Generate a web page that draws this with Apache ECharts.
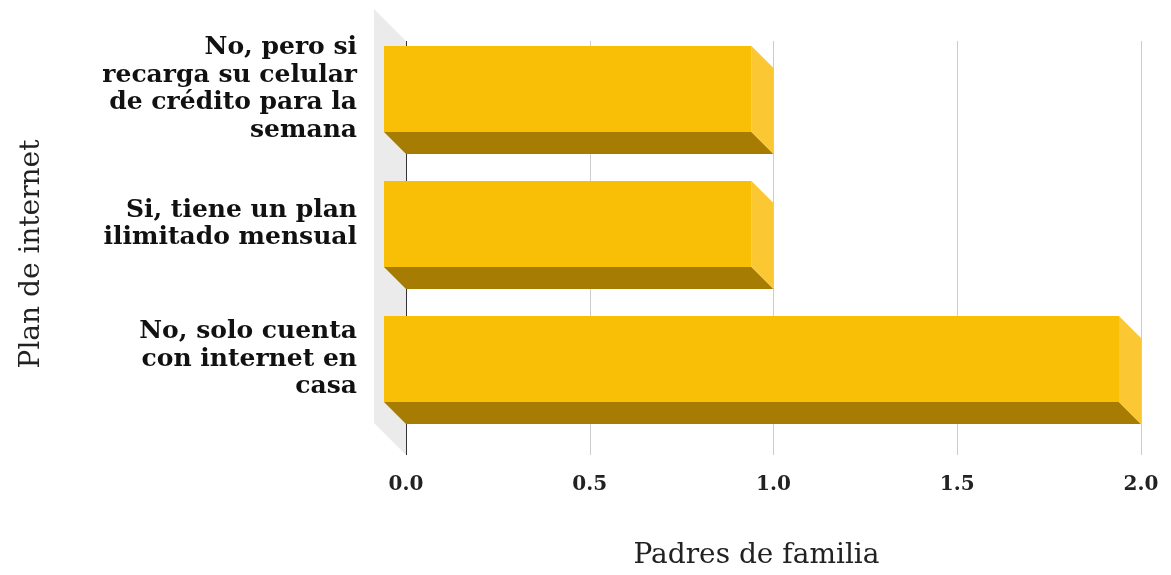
<!DOCTYPE html>
<html>
<head>
<meta charset="utf-8">
<script src="https://cdn.jsdelivr.net/npm/echarts@6/dist/echarts.min.js"></script>
<style>html,body{margin:0;padding:0;background:#fff}#c{width:1171px;height:575px}</style>
</head>
<body>
<div id="c"></div>
<script>
const categories = [
  "No, pero si\nrecarga su celular\nde crédito para la\nsemana",
  "Si, tiene un plan\nilimitado mensual",
  "No, solo cuenta\ncon internet en\ncasa"
];
const values = [1, 1, 2];
const xTicks = [0, 0.5, 1, 1.5, 2];
const yTitle = "Plan de internet";
const xTitle = "Padres de familia";

const FRONT = '#F9BE06', SIDE = '#FBC733', BOTTOM = '#A67C03', WALL = '#EBEBEB';
const SERIF = '"DejaVu Serif", "Liberation Serif", serif';
const DEPTH = 22, WALLDEPTH = 32;

const chart = echarts.init(document.getElementById('c'));

function renderBar(params, api) {
  const val = api.value(0), cat = api.value(1);
  const p0 = api.coord([0, cat]);
  const p1 = api.coord([val, cat]);
  const h = api.size([0, 1])[1] * 0.637;
  const d = DEPTH;
  const yt = p0[1] - h / 2, yb = p0[1] + h / 2;
  const x0 = p0[0], x1 = p1[0];
  return {
    type: 'group',
    children: [
      { type: 'polygon', shape: { points: [[x0 - d, yb - d], [x1 - d, yb - d], [x1, yb], [x0, yb]] }, style: { fill: BOTTOM } },
      { type: 'polygon', shape: { points: [[x1 - d, yt - d], [x1, yt], [x1, yb], [x1 - d, yb - d]] }, style: { fill: SIDE } },
      { type: 'rect', shape: { x: x0 - d, y: yt - d, width: x1 - x0, height: h }, style: { fill: FRONT } }
    ]
  };
}

function renderWall(params, api) {
  const cs = params.coordSys;
  const w = WALLDEPTH;
  return {
    type: 'polygon',
    shape: { points: [[cs.x - w, cs.y - w], [cs.x, cs.y], [cs.x, cs.y + cs.height], [cs.x - w, cs.y + cs.height - w]] },
    style: { fill: WALL }
  };
}

chart.setOption({
  animation: false,
  grid: [
    { left: 406, right: 30, top: 41, bottom: 116 },
    { left: 406, right: 30, top: 43.5, height: 405 },
    { left: 384, right: 52, top: 21.5, height: 405 }
  ],
  xAxis: [
    {
      gridIndex: 0, type: 'value', min: xTicks[0], max: xTicks[xTicks.length - 1], interval: 0.5,
      axisLine: { show: false }, axisTick: { show: false },
      splitLine: { show: true, lineStyle: { color: ['#333333', '#cccccc', '#cccccc', '#cccccc', '#cccccc'], width: 1 } },
      axisLabel: { margin: 20, fontFamily: SERIF, fontWeight: 'bold', fontSize: 20, color: '#222', formatter: v => v.toFixed(1) },
      name: xTitle, nameLocation: 'middle', nameGap: 87,
      nameTextStyle: { fontFamily: SERIF, fontSize: 28, color: '#222', padding: [0, 34, 0, 0] }
    },
    {
      gridIndex: 1, type: 'value', min: xTicks[0], max: xTicks[xTicks.length - 1], show: false
    },
    {
      gridIndex: 2, type: 'value', min: xTicks[0], max: xTicks[xTicks.length - 1], show: false
    }
  ],
  yAxis: [
    {
      gridIndex: 0, type: 'value', min: 0, max: 1,
      axisLine: { show: false }, axisTick: { show: false }, axisLabel: { show: false }, splitLine: { show: false },
      name: yTitle, nameLocation: 'middle', nameGap: 360, nameRotate: 90,
      nameTextStyle: { fontFamily: SERIF, fontSize: 28, color: '#222', padding: [0, 12, 0, 0] }
    },
    {
      gridIndex: 1, type: 'category', data: categories, inverse: true,
      axisLine: { show: false }, axisTick: { show: false }, splitLine: { show: false },
      axisLabel: { show: false }
    },
    {
      gridIndex: 2, type: 'category', data: categories, inverse: true,
      axisLine: { show: false }, axisTick: { show: false }, splitLine: { show: false },
      axisLabel: {
        margin: 27, fontFamily: SERIF, fontWeight: 'bold', fontSize: 25, lineHeight: 27.5,
        color: '#111', align: 'right'
      }
    }
  ],
  series: [
    {
      type: 'custom', xAxisIndex: 0, yAxisIndex: 0, z: 1,
      renderItem: renderWall, data: [[0, 0]], silent: true
    },
    {
      type: 'custom', xAxisIndex: 1, yAxisIndex: 1, z: 3,
      renderItem: renderBar,
      encode: { x: 0, y: 1 },
      data: values.map((v, i) => [v, i])
    }
  ]
});
</script>
</body>
</html>
